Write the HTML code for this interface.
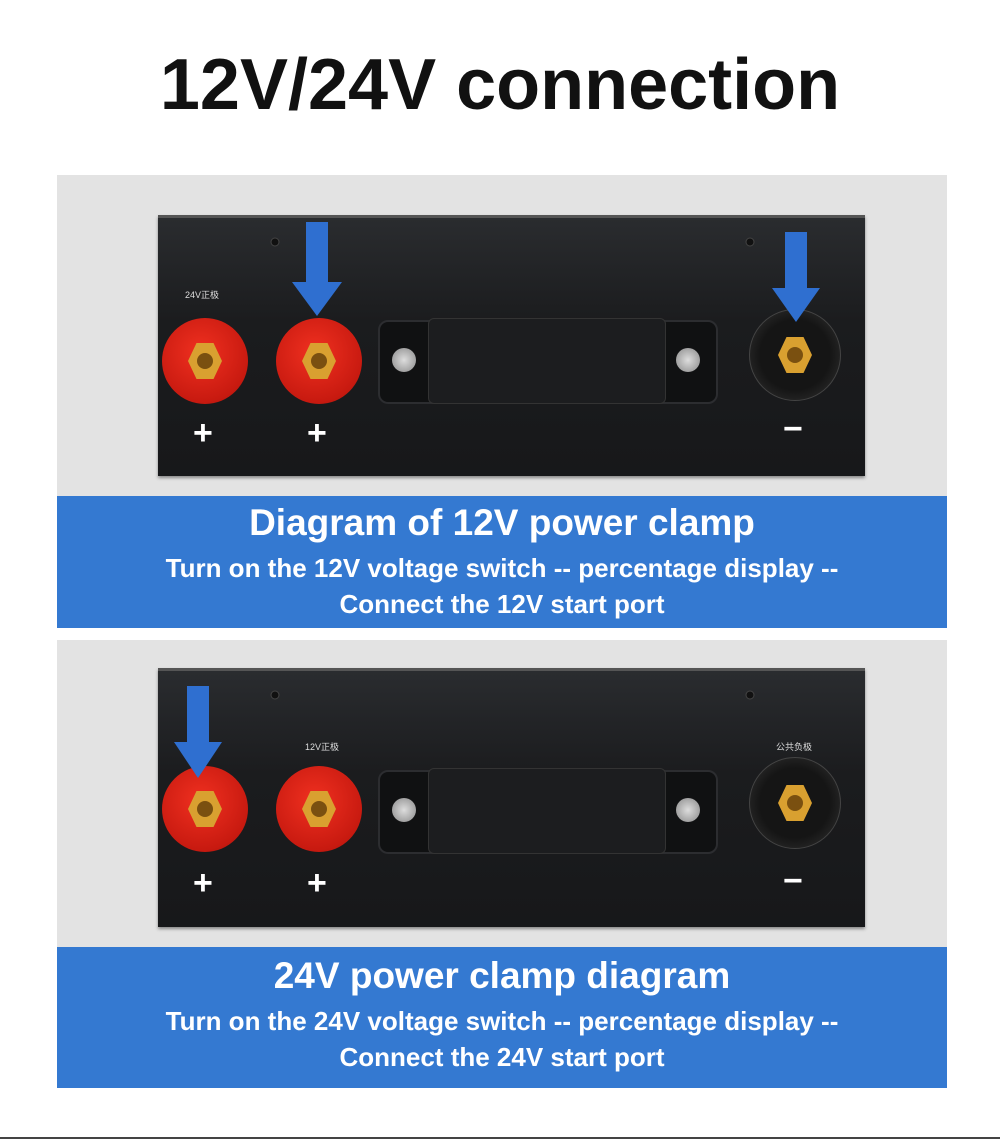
<!DOCTYPE html>
<html><head><meta charset="utf-8"><style>
body{margin:0;width:1000px;height:1142px;background:#fff;position:relative;overflow:hidden;font-family:"Liberation Sans","DejaVu Sans",sans-serif}
.abs{position:absolute}
.title{left:0;width:1000px;top:40px;text-align:center;font-size:72px;font-weight:bold;color:#111;line-height:90px}
.grey{background:#e3e3e3;left:57px;width:890px}
.dev{background:linear-gradient(#2a2c2f,#1b1c1e 40%,#17181a);left:158px;width:707px;border-top:3px solid #555;box-shadow:0 2px 3px #888}
.blue{background:#3479d1;left:57px;width:890px;color:#fff;text-align:center;font-weight:bold}
.red{border-radius:50%;background:radial-gradient(circle at 45% 40%,#f03020,#c81a10 70%,#a01008);width:86px;height:86px}
.blk{border-radius:50%;background:radial-gradient(circle,#151515 55%,#2c2c2c 85%,#3a3a3a);width:90px;height:90px;border:1px solid #444}
.hex{position:absolute;left:50%;top:50%;width:34px;height:36px;margin:-18px 0 0 -17px;background:#d9a030;clip-path:polygon(25% 0,75% 0,100% 50%,75% 100%,25% 100%,0 50%)}
.hex:after{content:"";position:absolute;left:9px;top:10px;width:16px;height:16px;border-radius:50%;background:#7a5010}
.plus{color:#fff;font-size:34px;font-weight:bold}
.handle{background:#101112;border-radius:10px;border:2px solid #2c2d30}
.mid{background:#1c1d1f;border-radius:6px;border:1px solid #333}
.bolt{width:24px;height:24px;border-radius:50%;background:radial-gradient(#ddd,#888);}
</style></head><body>
<div class="abs title">12V/24V connection</div>

<div class="abs grey" style="top:175px;height:322px"></div>
<div class="abs dev" style="top:215px;height:258px"></div>
<div class="abs" style="left:185px;top:288px;font-size:9px;color:#ddd">24V正极</div>
<div class="abs red" style="left:162px;top:318px"><div class="hex"></div></div>
<div class="abs red" style="left:276px;top:318px"><div class="hex"></div></div>
<div class="abs blk" style="left:749px;top:309px"><div class="hex"></div></div>
<div class="abs plus" style="left:193px;top:414px">+</div>
<div class="abs plus" style="left:307px;top:414px">+</div>
<div class="abs plus" style="left:783px;top:410px">−</div>
<div class="abs handle" style="left:378px;top:320px;width:336px;height:80px"></div>
<div class="abs mid" style="left:428px;top:318px;width:236px;height:84px"></div>
<div class="abs bolt" style="left:392px;top:348px"></div>
<div class="abs bolt" style="left:676px;top:348px"></div>
<svg class="abs" style="left:0;top:0" width="1000" height="1142">
<g fill="#2f6fd0">
<rect x="306" y="222" width="22" height="62"/><polygon points="292,282 342,282 317,316"/>
<rect x="785" y="232" width="22" height="58"/><polygon points="772,288 820,288 796,322"/>
</g>
<g fill="#111" stroke="#444"><circle cx="275" cy="242" r="4"/><circle cx="750" cy="242" r="4"/></g>
</svg>
<div class="abs blue" style="top:496px;height:132px">
<div style="font-size:37px;margin-top:4px;line-height:46px">Diagram of 12V power clamp</div>
<div style="font-size:26px;line-height:36px;margin-top:4px">Turn on the 12V voltage switch -- percentage display --<br>Connect the 12V start port</div>
</div>

<div class="abs grey" style="top:640px;height:308px"></div>
<div class="abs dev" style="top:668px;height:256px"></div>
<div class="abs" style="left:305px;top:740px;font-size:9px;color:#ddd">12V正极</div>
<div class="abs" style="left:776px;top:740px;font-size:9px;color:#ddd">公共负极</div>
<div class="abs red" style="left:162px;top:766px"><div class="hex"></div></div>
<div class="abs red" style="left:276px;top:766px"><div class="hex"></div></div>
<div class="abs blk" style="left:749px;top:757px"><div class="hex"></div></div>
<div class="abs plus" style="left:193px;top:864px">+</div>
<div class="abs plus" style="left:307px;top:864px">+</div>
<div class="abs plus" style="left:783px;top:862px">−</div>
<div class="abs handle" style="left:378px;top:770px;width:336px;height:80px"></div>
<div class="abs mid" style="left:428px;top:768px;width:236px;height:84px"></div>
<div class="abs bolt" style="left:392px;top:798px"></div>
<div class="abs bolt" style="left:676px;top:798px"></div>
<svg class="abs" style="left:0;top:0" width="1000" height="1142">
<g fill="#2f6fd0"><rect x="187" y="686" width="22" height="58"/><polygon points="174,742 222,742 198,778"/></g>
<g fill="#111" stroke="#444"><circle cx="275" cy="695" r="4"/><circle cx="750" cy="695" r="4"/></g>
</svg>
<div class="abs blue" style="top:947px;height:141px">
<div style="font-size:37px;margin-top:6px;line-height:46px">24V power clamp diagram</div>
<div style="font-size:26px;line-height:36px;margin-top:4px">Turn on the 24V voltage switch -- percentage display --<br>Connect the 24V start port</div>
</div>
<div class="abs" style="left:0;top:1137px;width:1000px;height:2px;background:#444"></div>
</body></html>
